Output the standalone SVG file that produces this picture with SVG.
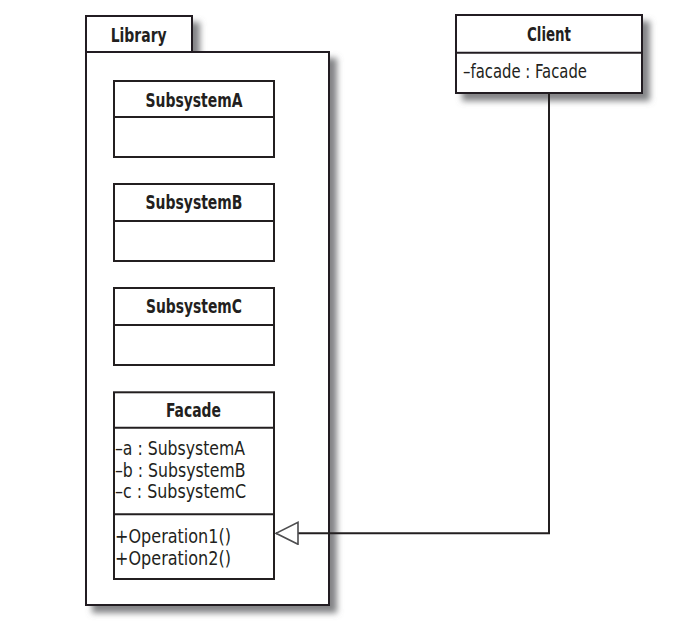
<svg xmlns="http://www.w3.org/2000/svg" width="697" height="634" viewBox="0 0 697 634">
<style>
.box{fill:#fff;stroke:#231f20;stroke-width:2}
.ln{stroke:#231f20;stroke-width:2;fill:none}
.t{font-family:"DejaVu Sans Condensed","DejaVu Sans","Liberation Sans",sans-serif;font-size:20px;fill:#231f20}
.b{font-weight:bold;text-anchor:middle}
</style>
<defs>
<filter id="sh" x="-10%" y="-10%" width="130%" height="130%">
<feOffset in="SourceAlpha" dx="7" dy="7" result="o"/>
<feGaussianBlur in="o" stdDeviation="3" result="bl"/>
<feFlood flood-color="#6d6e71" flood-opacity="0.85"/>
<feComposite in2="bl" operator="in" result="s"/>
<feMerge><feMergeNode in="s"/><feMergeNode in="SourceGraphic"/></feMerge>
</filter>
<marker id="tri" markerUnits="userSpaceOnUse" markerWidth="24" markerHeight="24" viewBox="0 0 24 24" refX="23" refY="12" orient="auto">
<path d="M1 1 L23 12 L1 23 Z" fill="#fff" stroke="#4d4d4f" stroke-width="1.6"/>
</marker>
</defs>
<rect width="697" height="634" fill="#fff"/>

<g id="Library" filter="url(#sh)">
<rect class="box" x="86" y="16" width="106" height="36"/>
<rect class="box" x="86" y="52" width="243" height="553"/>
</g>
<text class="t b" x="138.7" y="41.5" textLength="56" lengthAdjust="spacingAndGlyphs">Library</text>

<g id="Client" filter="url(#sh)">
<rect class="box" x="456" y="15" width="186" height="78"/>
<line class="ln" x1="456" y1="52.7" x2="642" y2="52.7"/>
</g>
<text class="t b" x="549" y="41" textLength="44" lengthAdjust="spacingAndGlyphs">Client</text>
<text class="t" x="463" y="78" textLength="124" lengthAdjust="spacingAndGlyphs">–facade : Facade</text>

<g id="SubsystemA">
<rect class="box" x="114" y="81" width="160" height="76"/>
<line class="ln" x1="114" y1="117" x2="274" y2="117"/>
<text class="t b" x="194" y="106.5" textLength="97" lengthAdjust="spacingAndGlyphs">SubsystemA</text>
</g>

<g id="SubsystemB">
<rect class="box" x="114" y="184" width="160" height="77"/>
<line class="ln" x1="114" y1="221" x2="274" y2="221"/>
<text class="t b" x="194" y="208.5" textLength="97" lengthAdjust="spacingAndGlyphs">SubsystemB</text>
</g>

<g id="SubsystemC">
<rect class="box" x="114" y="288" width="160" height="77"/>
<line class="ln" x1="114" y1="325" x2="274" y2="325"/>
<text class="t b" x="194" y="312.5" textLength="96" lengthAdjust="spacingAndGlyphs">SubsystemC</text>
</g>

<g id="Facade">
<rect class="box" x="114" y="392.3" width="160" height="186.7"/>
<line class="ln" x1="114" y1="427.7" x2="274" y2="427.7"/>
<line class="ln" x1="114" y1="514.3" x2="274" y2="514.3"/>
<text class="t b" x="193.5" y="416.7" textLength="55" lengthAdjust="spacingAndGlyphs">Facade</text>
<text class="t" x="115" y="455" textLength="130" lengthAdjust="spacingAndGlyphs">–a : SubsystemA</text>
<text class="t" x="115" y="476.7" textLength="130.5" lengthAdjust="spacingAndGlyphs">–b : SubsystemB</text>
<text class="t" x="115" y="498.3" textLength="131" lengthAdjust="spacingAndGlyphs">–c : SubsystemC</text>
<text class="t" x="115" y="543" textLength="116" lengthAdjust="spacingAndGlyphs">+Operation1()</text>
<text class="t" x="115" y="565" textLength="116" lengthAdjust="spacingAndGlyphs">+Operation2()</text>
</g>

<g id="connectors">
<path class="ln" d="M549 93 V533.3 H276" marker-end="url(#tri)"/>
</g>
</svg>
